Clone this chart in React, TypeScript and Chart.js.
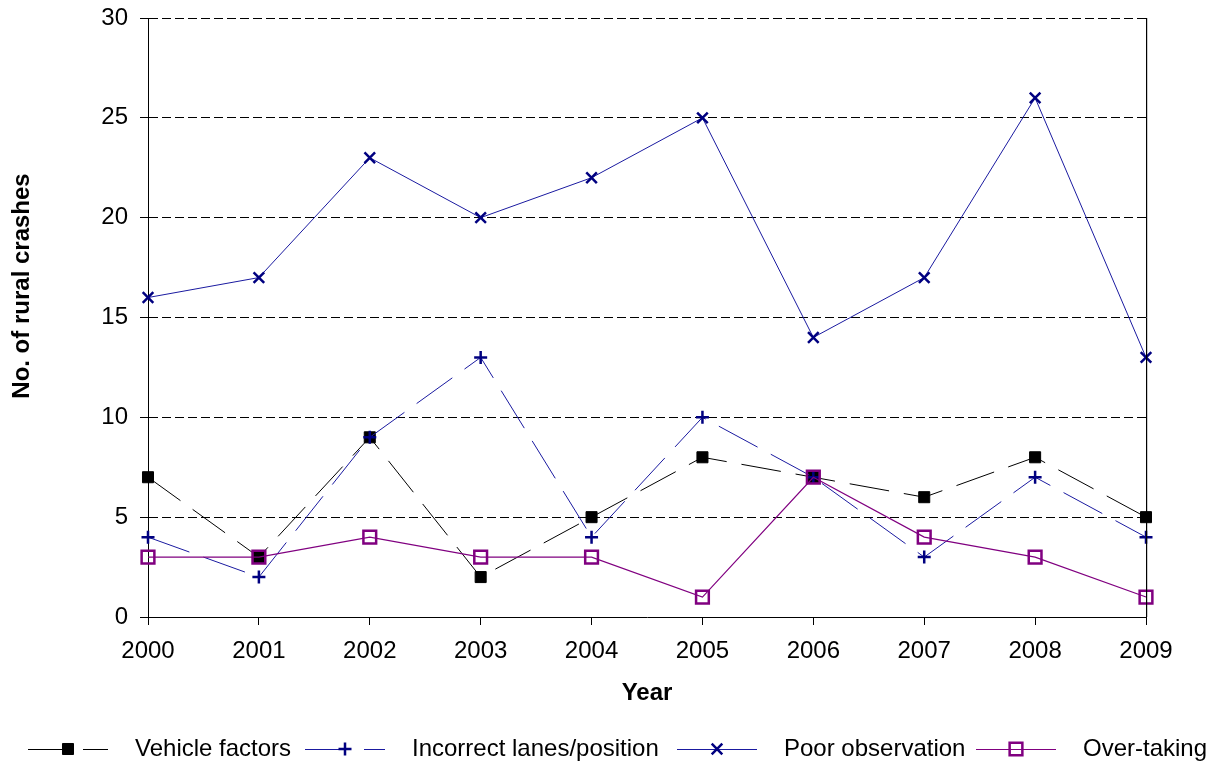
import React, { useEffect, useRef } from "react";
import { Chart, registerables } from "chart.js";

Chart.register(...registerables);

const years = ["2000", "2001", "2002", "2003", "2004", "2005", "2006", "2007", "2008", "2009"];
const vehicleFactors = [7, 3, 9, 2, 5, 8, 7, 6, 8, 5];
const incorrectLanes = [4, 2, 9, 13, 4, 10, 7, 3, 7, 4];
const poorObservation = [16, 17, 23, 20, 22, 25, 14, 17, 26, 13];
const overTaking = [3, 3, 4, 3, 3, 1, 7, 4, 3, 1];
const seriesNames = ["Vehicle factors", "Incorrect lanes/position", "Poor observation", "Over-taking"];
const yTitle = "No. of rural crashes";
const xTitle = "Year";

const FONT = "'Liberation Sans', Arial, Helvetica, sans-serif";
const W = 1213;
const H = 767;
const AREA = { left: 148, right: 1146, top: 18, bottom: 617 };
const LEGEND_X = [28, 305, 677, 976];
const LEGEND_Y = 749;

const overlayPlugin = {
  id: "overlay",
  afterDraw(chart: any) {
    const ctx = chart.ctx;
    const a = chart.chartArea;
    ctx.save();
    ctx.strokeStyle = "#000";
    ctx.lineWidth = 1;
    ctx.setLineDash([]);
    ctx.beginPath();
    ctx.moveTo(Math.round(a.right) + 0.5, a.top);
    ctx.lineTo(Math.round(a.right) + 0.5, a.bottom);
    ctx.stroke();
    ctx.strokeStyle = "rgba(0,0,0,0.2)";
    ctx.beginPath();
    ctx.moveTo(Math.round(a.right) + 1.5, a.top);
    ctx.lineTo(Math.round(a.right) + 1.5, a.bottom);
    ctx.stroke();

    ctx.fillStyle = "#000";
    ctx.font = `bold 24px ${FONT}`;
    ctx.textAlign = "center";
    ctx.textBaseline = "middle";
    ctx.fillText(xTitle, (a.left + a.right) / 2, 693);
    ctx.save();
    ctx.translate(22, 286);
    ctx.rotate(-Math.PI / 2);
    ctx.fillText(yTitle, 0, 0);
    ctx.restore();

    ctx.font = `24px ${FONT}`;
    ctx.textAlign = "left";
    chart.data.datasets.forEach((ds: any, i: number) => {
      const x0 = LEGEND_X[i];
      const x1 = x0 + 80;
      const y = LEGEND_Y;
      ctx.strokeStyle = ds.borderColor;
      ctx.lineWidth = ds.borderWidth;
      ctx.setLineDash(ds.borderDash || []);
      ctx.beginPath();
      ctx.moveTo(x0, y + 0.5);
      ctx.lineTo(x1, y + 0.5);
      ctx.stroke();
      ctx.setLineDash([]);
      const mx = (x0 + x1) / 2;
      const style = ds.pointStyle;
      ctx.lineWidth = ds.pointBorderWidth;
      ctx.strokeStyle = ds.pointBorderColor;
      ctx.fillStyle = ds.pointBackgroundColor;
      const r = ds.pointRadius;
      ctx.beginPath();
      if (style === "rect") {
        const s = Math.SQRT1_2 * r;
        ctx.rect(mx - s, y - s, 2 * s, 2 * s);
        ctx.fill();
        ctx.stroke();
      } else if (style === "cross") {
        ctx.moveTo(mx - r, y);
        ctx.lineTo(mx + r, y);
        ctx.moveTo(mx, y - r);
        ctx.lineTo(mx, y + r);
        ctx.stroke();
      } else if (style === "crossRot") {
        const s = Math.SQRT1_2 * r;
        ctx.moveTo(mx - s, y - s);
        ctx.lineTo(mx + s, y + s);
        ctx.moveTo(mx - s, y + s);
        ctx.lineTo(mx + s, y - s);
        ctx.stroke();
      }
      ctx.fillStyle = "#000";
      ctx.textBaseline = "middle";
      ctx.fillText(seriesNames[i], x1 + 27, y);
    });
    ctx.restore();
  },
};

export default function App() {
  const ref = useRef<HTMLCanvasElement | null>(null);
  useEffect(() => {
    document.body.style.margin = "0";
    const canvas = ref.current;
    if (!canvas) return;
    const chart = new Chart(canvas, {
      type: "line",
      data: {
        labels: years,
        datasets: [
          {
            label: seriesNames[0],
            data: vehicleFactors,
            borderColor: "#000000",
            borderWidth: 1,
            borderDash: [40, 15],
            pointStyle: "rect",
            pointRadius: 7.8,
            pointBackgroundColor: "#000000",
            pointBorderColor: "#000000",
            pointBorderWidth: 1,
            order: 4,
            clip: false,
          },
          {
            label: seriesNames[1],
            data: incorrectLanes,
            borderColor: "#1a1aa0",
            borderWidth: 1,
            borderDash: [44, 15],
            pointStyle: "cross",
            pointRadius: 6.5,
            pointBackgroundColor: "#000080",
            pointBorderColor: "#000080",
            pointBorderWidth: 2.5,
            order: 3,
            clip: false,
          },
          {
            label: seriesNames[2],
            data: poorObservation,
            borderColor: "#1a1aa0",
            borderWidth: 1,
            pointStyle: "crossRot",
            pointRadius: 7.5,
            pointBackgroundColor: "#000080",
            pointBorderColor: "#000080",
            pointBorderWidth: 2.5,
            order: 2,
            clip: false,
          },
          {
            label: seriesNames[3],
            data: overTaking,
            borderColor: "#800080",
            borderWidth: 1.2,
            pointStyle: "rect",
            pointRadius: 9,
            pointBackgroundColor: "rgba(0,0,0,0)",
            pointBorderColor: "#800080",
            pointBorderWidth: 2.5,
            order: 1,
            clip: false,
          },
        ],
      },
      options: {
        responsive: false,
        animation: false,
        tension: 0,
        layout: {
          padding: { left: 0, top: AREA.top, right: W - AREA.right, bottom: 0 },
        },
        plugins: {
          legend: { display: false },
          tooltip: { enabled: false },
          title: { display: false },
        },
        scales: {
          x: {
            type: "category",
            offset: false,
            grid: {
              drawOnChartArea: false,
              drawTicks: true,
              tickLength: 8,
              tickColor: "#000",
              color: "#000",
            },
            border: { display: true, color: "#000", width: 1 },
            ticks: {
              color: "#000",
              font: { family: FONT, size: 24 },
              padding: 12,
              maxRotation: 0,
              autoSkip: false,
            },
            afterFit(scale: any) {
              scale.height = H - AREA.bottom;
              scale.paddingLeft = 0;
              scale.paddingRight = 0;
            },
          },
          y: {
            min: 0,
            max: 30,
            grid: {
              color: (c: any) => (c.tick && c.tick.value === 0 ? "rgba(0,0,0,0)" : "#000"),
              lineWidth: 1,
              tickColor: "#000",
              tickLength: 8,
              tickBorderDash: [],
            },
            border: { display: true, color: "#000", width: 1, dash: [9, 4] },
            ticks: {
              stepSize: 5,
              color: "#000",
              font: { family: FONT, size: 24 },
              padding: 12,
            },
            afterFit(scale: any) {
              scale.width = AREA.left;
              scale.paddingTop = 0;
              scale.paddingBottom = 0;
            },
          },
        },
      } as any,
      plugins: [overlayPlugin],
    });
    return () => chart.destroy();
  }, []);
  return (
    <div style={{ width: W, height: H }}>
      <canvas ref={ref} width={W} height={H} style={{ display: "block" }} />
    </div>
  );
}
